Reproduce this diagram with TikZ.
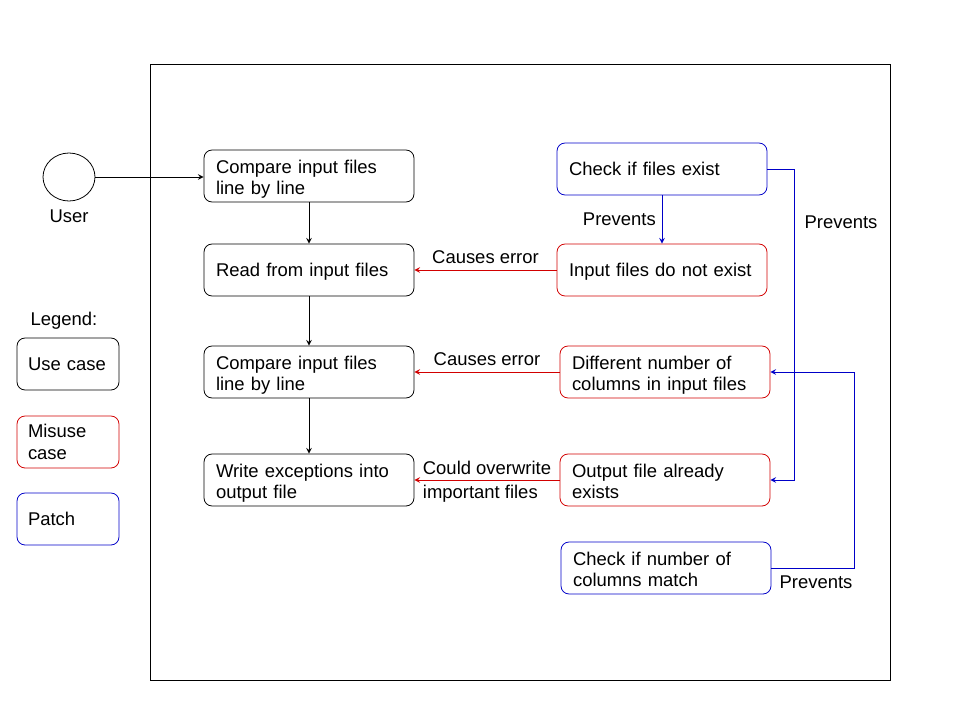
\documentclass[tikz,border=0pt]{standalone}
\usepackage{fontspec}
\setmainfont{Liberation Sans}
\usetikzlibrary{positioning}
\usetikzlibrary{arrows}
\usetikzlibrary{shapes.geometric}
\definecolor{misred}{RGB}{210,0,0}
\definecolor{patchblue}{RGB}{0,0,200}
\tikzset{
	usecase/.style={draw,rounded corners=0.16cm,minimum width=4.2cm,minimum height=1.04cm,text width=3.72cm,align=left,inner xsep=0.24cm},
	oneline/.style={text depth=0pt},
	twoline/.style={text depth=11pt},
	misuse/.style={usecase,draw=misred},
	patch/.style={usecase,draw=patchblue},
	legendbox/.style={draw,rounded corners=0.16cm,minimum width=2.04cm,minimum height=1.04cm,text width=1.6cm,align=left,inner xsep=0.22cm}
}

\begin{document}
\begin{tikzpicture}[x=0.02cm,y=-0.02cm,line width=0.45pt,>=stealth,font=\fontsize{10.5}{12.5}\selectfont]
	\useasboundingbox (0,0) rectangle (960,720);
	\draw (150,64) rectangle (890,680);
	\node[ellipse,draw,minimum width=1.04cm,minimum height=0.96cm] (user) at (69,177) {};
	\node[below=1pt of user] (userlbl) {User};
	\node (compare) [usecase,twoline] at (309,176) {Compare input files\\line by line};
	\node (read) [usecase,oneline] at (309,270) {Read from input files};
	\node (compareb) [usecase,twoline] at (309,372) {Compare input files\\line by line};
	\node (write) [usecase,twoline] at (309,480) {Write exceptions into\\output file};
	\node (check) [patch,oneline] at (662,169) {Check if files exist};
	\node (missing) [misuse,oneline] at (662,270) {Input files do not exist};
	\node (columns) [misuse,twoline] at (665,372) {Different number of\\columns in input files};
	\node (exists) [misuse,twoline] at (665,480) {Output file already\\exists};
	\node (checkcol) [patch,twoline] at (666,568) {Check if number of\\columns match};
	% legend
	\node (legend) at (64,321) {Legend:};
	\node (lguse) [legendbox,oneline] at (68,364) {Use case};
	\node (lgmisuse) [legendbox,draw=misred] at (68,442) {Misuse\\case};
	\node (lgpatch) [legendbox,draw=patchblue,oneline] at (68,519) {Patch};
	\coordinate (bendA) at (794,480);
	\coordinate (bendB) at (854,372);
	\draw[->] (user) -- (user -| compare.west);
	\draw[->] (compare) -- (read);
	\draw[->] (read) -- (compareb);
	\draw[->] (compareb) -- (write);
	\draw[->,misred] (missing) -- node[above,black] {Causes error} (read);
	\draw[->,misred] (columns) -- node[above,black] {Causes error} (compareb);
	\draw[->,misred] (exists) -- node[black,align=left,inner sep=1pt,yshift=-1pt] {Could overwrite\\[1pt]important files} (write);
	\draw[->,patchblue] (check) -- node[left,black] {Prevents} (missing);
	\draw[->,patchblue] (check.east) -| (bendA) -- (exists.east);
	\draw[->,patchblue] (checkcol.east) -| (bendB) -- (columns.east);
	\node (prevA) at (841,222) {Prevents};
	\node (prevB) at (816,582) {Prevents};
\end{tikzpicture}
\end{document}
